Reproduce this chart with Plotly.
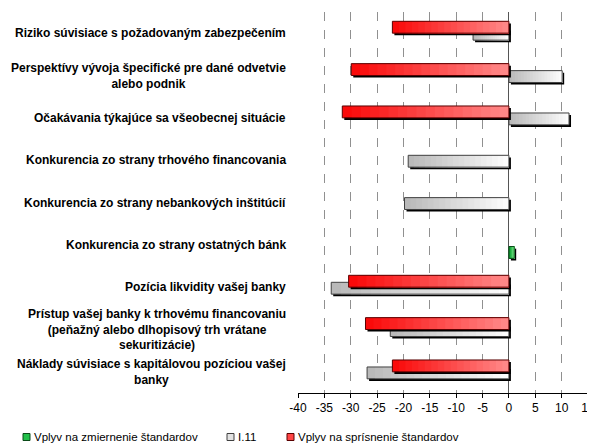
import plotly.graph_objects as go

categories = [
    "Riziko súvisiace s požadovaným zabezpečením",
    "Perspektívy vývoja špecifické pre dané odvetvie<br>alebo podnik",
    "Očakávania týkajúce sa všeobecnej situácie",
    "Konkurencia zo strany trhového financovania",
    "Konkurencia zo strany nebankových inštitúcií",
    "Konkurencia zo strany ostatných bánk",
    "Pozícia likvidity vašej banky",
    "Prístup vašej banky k trhovému financovaniu<br>(peňažný alebo dlhopisový trh vrátane<br>sekuritizácie)",
    "Náklady súvisiace s kapitálovou pozíciou vašej<br>banky",
]
zmiernenie = [0, 0, 0, 0, 0, 1.0, 0, 0, 0]
i11 = [-6.8, 10.1, 11.4, -19.1, -19.8, 0, -33.7, -22.5, -26.9]
sprisnenie = [-22.1, -29.9, -31.6, 0, 0, 0, -30.4, -27.2, -22.1]
tick_vals = [-40, -35, -30, -25, -20, -15, -10, -5, 0, 5, 10, 15]
tick_text = ["-40", "-35", "-30", "-25", "-20", "-15", "-10", "-5", "0", "5", "10", "15"]

series_names = ["Vplyv na zmiernenie štandardov", "I.11", "Vplyv na sprísnenie štandardov"]
series_vals = [zmiernenie, i11, sprisnenie]
fills = ["#22c04a", "#e2e2e2", "#ff4545"]
grad_left = [(0, 150, 40), (185, 185, 185), (250, 10, 10)]
grad_right = [(110, 230, 130), (252, 252, 252), (255, 135, 135)]
edges = ["#0a4a18", "#404040", "#5a0000"]
offsets = [0.18, 0.025, -0.14]

OFF = 8  # page body margin
W, H = 595 - OFF, 447 - OFF
L, R, T, B = 298 - OFF, 7, 12 - OFF, 54
PW, PH = W - L - R, H - T - B

def px_x(px):
    return (px - OFF - L) / PW

def px_y(py):
    return (H - B - (py - OFF)) / PH

pos = list(range(len(categories)))
bw = 0.28
sx = 0.38   # shadow shift (x units)
sy = 0.05   # shadow shift (y units)
NSTEP = 18

fig = go.Figure()
for name, vals, edge, off, cl, cr in zip(series_names, series_vals, edges, offsets,
                                          grad_left, grad_right):
    shown = [v if v != 0 else None for v in vals]
    ys = [p + off for p in pos]
    # shadow
    fig.add_trace(go.Bar(
        x=shown, y=[y + sy for y in ys], base=sx, orientation="h",
        width=bw, marker=dict(color="black", line=dict(width=0)),
        showlegend=False, hoverinfo="skip"))
    # gradient fill: each step starts further right and runs to the bar's right end
    lows = [min(0, v) if v != 0 else None for v in vals]
    spans = [abs(v) if v != 0 else None for v in vals]
    for k in range(NSTEP):
        t = k / (NSTEP - 1)
        col = "rgb({},{},{})".format(*[round(a + (b - a) * t) for a, b in zip(cl, cr)])
        fig.add_trace(go.Bar(
            x=[s * (1 - k / NSTEP) if s else None for s in spans],
            base=[lo + s * k / NSTEP if s else None for lo, s in zip(lows, spans)],
            y=ys, orientation="h", width=bw,
            marker=dict(color=col, line=dict(width=0)),
            showlegend=False, hoverinfo="skip"))
    # outline
    fig.add_trace(go.Bar(
        x=shown, y=ys, orientation="h", name=name, width=bw, showlegend=False,
        marker=dict(color="rgba(0,0,0,0)", line=dict(color=edge, width=1))))

for p, c in zip(pos, categories):
    fig.add_annotation(
        x=0, xref="paper", y=p, yref="y", text=c, showarrow=False,
        xanchor="right", xshift=-10, align="center",
        font=dict(family="Liberation Sans, Arial", size=12, color="black", weight="bold"))

# custom legend (small squares with text right next to them)
legend_px = [23, 227, 287]
for name, col, edge, lx in zip(series_names, fills, edges, legend_px):
    fig.add_shape(type="rect", xref="paper", yref="paper",
                  x0=px_x(lx), x1=px_x(lx + 7), y0=px_y(440.5), y1=px_y(433.5),
                  fillcolor=col, line=dict(color=edge, width=1))
    fig.add_annotation(x=px_x(lx + 9), y=px_y(437), xref="paper", yref="paper",
                       text=name, showarrow=False, xanchor="left", yanchor="middle",
                       font=dict(family="Liberation Sans, Arial", size=11.5, color="black"))

fig.update_layout(
    width=W, height=H,
    margin=dict(l=L, r=R, t=T, b=B),
    paper_bgcolor="white", plot_bgcolor="white",
    barmode="overlay", showlegend=False,
    font=dict(family="Liberation Sans, Arial", size=12, color="black"),
    xaxis=dict(
        range=[-40, 15], tickvals=tick_vals, ticktext=tick_text, automargin=False,
        showgrid=True, gridcolor="#909090", griddash="dash", gridwidth=1,
        zeroline=True, zerolinecolor="#555555", zerolinewidth=1,
        showline=True, linecolor="black", linewidth=1,
        ticks="outside", ticklen=4, tickcolor="black",
        tickfont=dict(size=12),
    ),
    yaxis=dict(
        range=[8.5, -0.5], showticklabels=False, showgrid=False,
        zeroline=False, showline=False, ticks="", automargin=False,
    ),
)

fig.write_html("out.html")
